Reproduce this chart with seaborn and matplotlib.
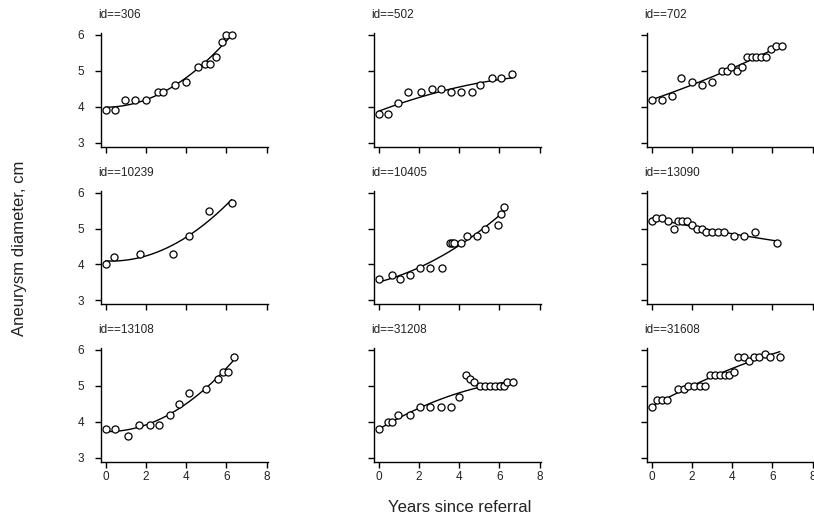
import numpy as np
import pandas as pd
import matplotlib
matplotlib.use("Agg")
import matplotlib.pyplot as plt
import seaborn as sns

# Patient identifiers, in panel order
ids = [306, 502, 702, 10239, 10405, 13090, 13108, 31208, 31608]

# Years since referral and aneurysm diameter (cm) for each patient
t_306 = [0, 0.48, 0.98, 1.47, 1.99, 2.6, 2.86, 3.44, 3.97, 4.59, 4.92, 5.2, 5.48, 5.76, 5.98, 6.27]
d_306 = [3.9, 3.9, 4.2, 4.2, 4.2, 4.4, 4.4, 4.6, 4.7, 5.1, 5.2, 5.2, 5.4, 5.8, 6.0, 6.0]

t_502 = [0, 0.48, 0.98, 1.44, 2.12, 2.63, 3.1, 3.58, 4.1, 4.62, 5.05, 5.65, 6.08, 6.64]
d_502 = [3.8, 3.8, 4.1, 4.4, 4.4, 4.5, 4.5, 4.4, 4.4, 4.4, 4.6, 4.8, 4.8, 4.9]

t_702 = [0, 0.5, 0.99, 1.47, 2.0, 2.49, 2.99, 3.47, 3.73, 3.96, 4.24, 4.49, 4.72, 4.97,
         5.2, 5.43, 5.69, 5.94, 6.2, 6.45]
d_702 = [4.2, 4.2, 4.3, 4.8, 4.7, 4.6, 4.7, 5.0, 5.0, 5.1, 5.0, 5.1, 5.4, 5.4,
         5.4, 5.4, 5.4, 5.6, 5.7, 5.7]

t_10239 = [0, 0.4, 1.71, 3.36, 4.16, 5.15, 6.26]
d_10239 = [4.0, 4.2, 4.3, 4.3, 4.8, 5.5, 5.7]

t_10405 = [0, 0.65, 1.04, 1.54, 2.04, 2.53, 3.13, 3.53, 3.64, 3.76, 4.07, 4.37, 4.89,
           5.27, 5.91, 6.08, 6.24]
d_10405 = [3.6, 3.7, 3.6, 3.7, 3.9, 3.9, 3.9, 4.6, 4.6, 4.6, 4.6, 4.8, 4.8,
           5.0, 5.1, 5.4, 5.6]

t_13090 = [0, 0.21, 0.49, 0.81, 1.1, 1.32, 1.52, 1.77, 2.0, 2.24, 2.49, 2.72, 2.99,
           3.3, 3.58, 4.07, 4.57, 5.13, 6.24]
d_13090 = [5.2, 5.3, 5.3, 5.2, 5.0, 5.2, 5.2, 5.2, 5.1, 5.0, 5.0, 4.9, 4.9,
           4.9, 4.9, 4.8, 4.8, 4.9, 4.6]

t_13108 = [0, 0.46, 1.11, 1.66, 2.22, 2.65, 3.18, 3.64, 4.16, 4.98, 5.58, 5.81, 6.08, 6.37]
d_13108 = [3.8, 3.8, 3.6, 3.9, 3.9, 3.9, 4.2, 4.5, 4.8, 4.9, 5.2, 5.4, 5.4, 5.8]

t_31208 = [0, 0.46, 0.65, 0.98, 1.56, 2.04, 2.57, 3.08, 3.59, 3.99, 4.35, 4.55, 4.74,
           5.05, 5.3, 5.55, 5.8, 6.01, 6.21, 6.39, 6.66]
d_31208 = [3.8, 4.0, 4.0, 4.2, 4.2, 4.4, 4.4, 4.4, 4.4, 4.7, 5.3, 5.2, 5.1,
           5.0, 5.0, 5.0, 5.0, 5.0, 5.0, 5.1, 5.1]

t_31608 = [0, 0.25, 0.51, 0.76, 1.3, 1.58, 1.81, 2.09, 2.39, 2.66, 2.9, 3.15, 3.4, 3.66,
           3.84, 4.07, 4.3, 4.57, 4.82, 5.07, 5.33, 5.62, 5.9, 6.37]
d_31608 = [4.4, 4.6, 4.6, 4.6, 4.9, 4.9, 5.0, 5.0, 5.0, 5.0, 5.3, 5.3, 5.3, 5.3,
           5.3, 5.4, 5.8, 5.8, 5.7, 5.8, 5.8, 5.9, 5.8, 5.8]

x_ticks = [0, 2, 4, 6, 8]
y_ticks = [3, 4, 5, 6]

times = [t_306, t_502, t_702, t_10239, t_10405, t_13090, t_13108, t_31208, t_31608]
diams = [d_306, d_502, d_702, d_10239, d_10405, d_13090, d_13108, d_31208, d_31608]

df = pd.concat(
    [pd.DataFrame({"id": i, "years": t, "diameter": d}) for i, t, d in zip(ids, times, diams)],
    ignore_index=True,
)

sns.set_theme(style="ticks")
plt.rcParams["font.family"] = ["Liberation Sans", "DejaVu Sans"]

W, H = 814, 522
fig = plt.figure(figsize=(W / 100, H / 100), dpi=100)

# panel geometry in pixels
lefts = [100.7, 373.7, 646.7]
tops = [33.2, 190.9, 348.2]
pw, ph = 167.0, 113.4

for k, pid in enumerate(ids):
    r, c = divmod(k, 3)
    ax = fig.add_axes([lefts[c] / W, 1 - (tops[r] + ph) / H, pw / W, ph / H])
    sub = df[df["id"] == pid]
    sns.regplot(data=sub, x="years", y="diameter", order=2, ci=None, scatter=False,
                color="black", line_kws={"lw": 1.0}, ax=ax)
    sns.scatterplot(data=sub, x="years", y="diameter", marker="o", s=26,
                    facecolor="white", edgecolor="black", linewidth=0.9,
                    ax=ax, zorder=3, clip_on=False)
    ax.set_xlim(-0.25, 8.05)
    ax.set_ylim(2.89, 6.05)
    ax.set_xticks(x_ticks)
    ax.set_yticks(y_ticks)
    ax.set_xlabel("")
    ax.set_ylabel("")
    for s in ("top", "right"):
        ax.spines[s].set_visible(False)
    for s in ("left", "bottom"):
        ax.spines[s].set_linewidth(1.0)
        ax.spines[s].set_color("black")
    ax.tick_params(axis="both", direction="out", length=4, width=1.0, color="black",
                   labelsize=8.5, labelcolor="#222222")
    ax.tick_params(axis="y", pad=8)
    ax.tick_params(axis="x", pad=3)
    if c != 0:
        ax.tick_params(axis="y", labelleft=False)
    if r != 2:
        ax.tick_params(axis="x", labelbottom=False)
    ax.annotate(f"id=={pid}", xy=(0, 1), xycoords="axes fraction",
                xytext=(-2, 18), textcoords="offset pixels",
                ha="left", va="center", fontsize=8.5, color="#222222")

fig.text(460 / W, 1 - 508 / H, "Years since referral", ha="center", va="center",
         fontsize=12, color="#222222")
fig.text(20 / W, 1 - 248 / H, "Aneurysm diameter, cm", ha="center", va="center",
         rotation=90, fontsize=12, color="#222222")

fig.savefig("out.png", dpi=100, facecolor="white")
